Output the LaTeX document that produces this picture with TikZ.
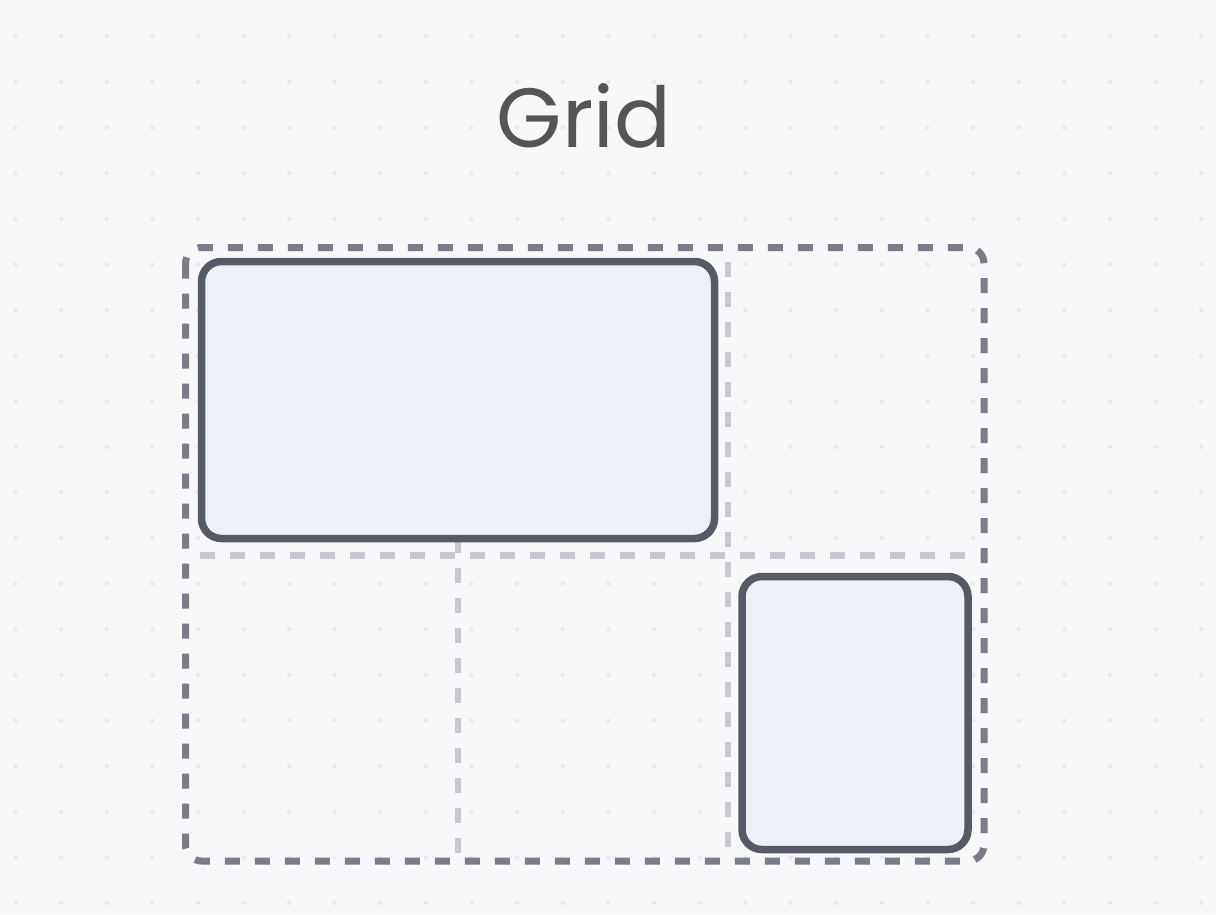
\documentclass[tikz,border=0pt]{standalone}
\usepackage{fontspec}
\setmainfont{Poppins}
\definecolor{PageBg}{RGB}{248,248,250}
\definecolor{DotGray}{RGB}{233,234,238}
\definecolor{FrameGray}{RGB}{122,125,137}
\definecolor{LineGray}{RGB}{197,200,208}
\definecolor{BoxEdge}{RGB}{85,90,100}
\definecolor{BoxFill}{RGB}{237,240,247}
\definecolor{TitleGray}{RGB}{85,85,88}
\tikzset{
  frame/.style={draw=FrameGray,line width=7,rounded corners=16,
    dash pattern=on 15 off 15},
  gridline/.style={draw=LineGray,line width=6.5,dash pattern=on 15 off 15},
  cellbox/.style={draw=BoxEdge,fill=BoxFill,line width=7.5,rounded corners=20,
    inner sep=0pt},
  title/.style={text=TitleGray,font=\fontsize{84}{94}\selectfont,anchor=base}
}
\begin{document}
\begin{tikzpicture}[x=1pt,y=-1pt]
      \fill[PageBg] (0,0) rectangle (1216,914);
      \useasboundingbox (0,0) rectangle (1216,914);
      % dotted backdrop
      \foreach \i in {0,...,26}
        \foreach \j in {0,...,19}
          \fill[DotGray] (15.5+45.6*\i,36.5+45.6*\j) circle (2.2);
      \node[title] (heading) at (584,147) {Grid};
      % grid tracks
      \draw[gridline] (200,555.5) -- (975,555.5);
      \draw[gridline] (458,538) -- (458,858);
      \draw[gridline] (728,262) -- (728,858);
      \draw[frame] (185.5,247.5) rectangle (984,861);
      % placed items
      \node[cellbox,minimum width=513,minimum height=277] (wide) at (458,400) {};
      \node[cellbox,minimum width=226,minimum height=273] (tall) at (855,713) {};
    \end{tikzpicture}
\end{document}
